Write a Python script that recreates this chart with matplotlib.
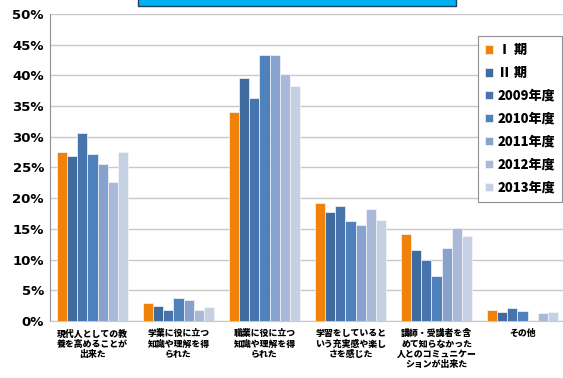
import matplotlib
matplotlib.use("Agg")
import matplotlib.pyplot as plt
import numpy as np
from matplotlib.patches import Rectangle

plt.rcParams['font.family'] = ['Noto Sans CJK JP', 'DejaVu Sans']

categories = ['現代人としての教\n養を高めることが\n出来た',
              '学業に役に立つ\n知識や理解を得\nられた',
              '職業に役に立つ\n知識や理解を得\nられた',
              '学習をしていると\nいう充実感や楽し\nさを感じた',
              '講師・受講者を含\nめて知らなかった\n人とのコミュニケー\nションが出来た',
              'その他']
series = ['Ⅰ 期', 'Ⅱ 期', '2009年度', '2010年度', '2011年度', '2012年度', '2013年度']
s1 = [27.5, 3.0, 34.1, 19.2, 14.2, 1.7]
s2 = [26.9, 2.4, 39.6, 17.8, 11.5, 1.4]
s3 = [30.6, 1.8, 36.3, 18.8, 10.0, 2.1]
s4 = [27.2, 3.8, 43.4, 16.2, 7.3, 1.6]
s5 = [25.5, 3.4, 43.3, 15.7, 11.8, 0.0]
s6 = [22.7, 1.8, 40.3, 18.2, 15.2, 1.3]
s7 = [27.5, 2.2, 38.3, 16.4, 13.8, 1.4]
values = [s1, s2, s3, s4, s5, s6, s7]
colors = ['#F0820A', '#3F6B9F', '#4774AD', '#4F81BD', '#87A2CD', '#AAB9D7', '#C6D0E3']

fig = plt.figure(figsize=(5.63, 3.78), dpi=100)
ax = fig.add_axes([0.088, 0.151, 0.9165, 0.812])

x = np.arange(len(categories))
w = 0.1175
for i, (name, vals) in enumerate(zip(series, values)):
    ax.bar(x + (i - 3) * w, vals, w, color=colors[i], edgecolor='#f4f6fa',
           linewidth=0.5, label=name, zorder=3)

ax.set_xlim(-0.5, 5.5)
ax.set_ylim(0, 50)
ax.set_yticks(np.arange(0, 51, 5))
ax.set_yticklabels([f'{v}%' for v in range(0, 51, 5)], fontsize=9.5,
                   fontweight='bold', family=['DejaVu Sans'])
ax.set_xticks(x)
ax.set_xticklabels(categories, fontsize=6.4, fontweight='heavy', linespacing=1.2,
                   va='top')
ax.tick_params(axis='both', length=0, pad=4)
ax.tick_params(axis='x', pad=6)
ax.yaxis.grid(True, color='#c8c8c8', linewidth=1, zorder=0)
for s in ['top', 'right']:
    ax.spines[s].set_visible(False)
ax.spines['left'].set_color('#909090')
ax.spines['bottom'].set_color('#c8c8c8')

leg = fig.legend(loc='upper left', bbox_to_anchor=(0.849, 0.905),
                 prop={'weight': 'heavy', 'size': 9.4},
                 handlelength=0.6, handleheight=0.6, handletextpad=0.35,
                 labelspacing=0.68, borderpad=0.55, borderaxespad=0,
                 frameon=True, fancybox=False,
                 edgecolor='#909090', framealpha=1)
leg.get_frame().set_linewidth(0.8)

fig.patches.append(Rectangle((138 / 563, 1 - 6 / 378), 318 / 563, 0.03,
                             transform=fig.transFigure, facecolor='#00B0F0',
                             edgecolor='#1f3f5f', linewidth=1))

fig.savefig('out.png', dpi=100)
